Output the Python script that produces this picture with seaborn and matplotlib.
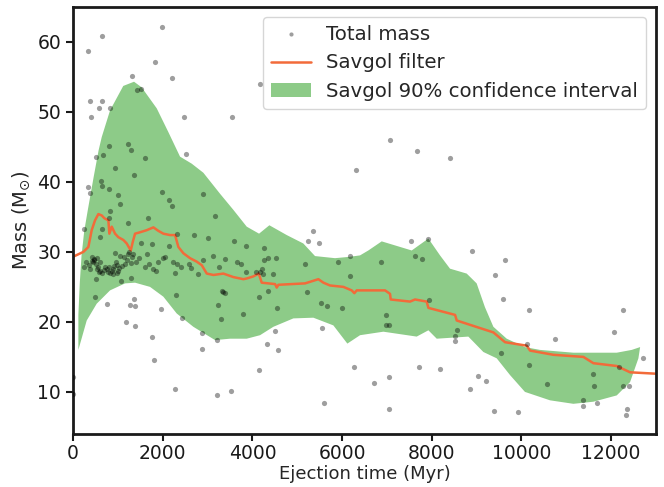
import numpy as np
import pandas as pd
import matplotlib
matplotlib.use("Agg")
import matplotlib.pyplot as plt
import seaborn as sns

# Ejection time (Myr) and total mass (Msun) of individual events
time_myr = [
    335, 655, 1990, 1835, 2208, 1310, 1420, 1520,
    372, 394, 580, 655, 825, 2475, 3553, 4177, 6305,
    810, 677, 505, 1220, 1287, 1598, 929, 1353, 2513,
    624, 640, 334, 386, 803, 1004, 1048, 1978, 2141, 2208, 2906, 3174,
    825, 796, 1680, 245, 647, 1220, 595, 2705, 3010, 3590, 3851, 4259,
    5233, 5478, 5359, 1509, 1768, 2147,
    7077, 7671, 8414, 7545, 7910,
    6184, 6876, 7634, 7783, 8891, 9641, 6170, 9404, 9589, 5991, 10176,
    7932, 6973, 6973, 7040, 12065, 12267, 10756, 8563, 8519, 8519, 10124,
    9551, 12719, 10169, 12183, 11589, 6266, 7723, 8191, 7054, 6705, 9039,
    9203, 8860, 10563, 11612, 12265, 12399, 11380, 11380, 11678, 12361,
    12325, 7046, 9388, 9930,
    7, 7, 2275, 3205, 3517, 4148, 5604, 1800, 1762, 1182, 1383, 1271, 1383,
    1360, 751, 1955, 490, 2437, 2883, 2883, 3211, 3300, 3233, 3784, 4326,
    4497, 4572, 4556, 4348, 4155, 5211, 5530, 5664, 5553, 5909, 5174, 2297,
    3323, 3352, 4163, 4244, 4467, 4355, 4259, 4527, 3753, 3664, 3382, 3115,
    3263, 2781, 2892, 2594, 2624, 2415, 2267, 2223, 2312, 2312, 1857, 1777,
    1695, 1657, 2000, 2045, 1472, 1309, 1338, 1234, 1287, 1160, 1033, 975,
    914, 863, 774, 810, 937, 1048, 1137, 714, 580, 602, 528, 475, 430, 357,
    513, 1063, 1301, 3851, 4081, 4207, 3390,
    450, 470, 520, 540, 560, 600, 650, 700, 760, 820, 880, 950, 1000, 1100,
    1200, 420, 380, 300, 250, 900, 980, 1250, 1400, 1600, 1900,
]
total_mass = [
    58.7, 60.8, 62.1, 57.1, 54.9, 55.1, 53.1, 53.3,
    51.6, 49.2, 50.6, 51.5, 50.5, 49.3, 49.2, 54.0, 41.7,
    45.1, 43.9, 43.5, 45.4, 44.6, 43.4, 42.0, 41.0, 44.0,
    40.1, 39.4, 39.2, 38.4, 39.0, 38.1, 36.8, 38.6, 37.4, 36.6, 38.2, 35.1,
    35.8, 34.8, 34.9, 33.2, 33.2, 34.1, 32.1, 32.4, 32.0, 31.6, 30.8, 30.5,
    31.5, 31.3, 33.0, 31.3, 31.1, 30.9,
    46.0, 44.4, 43.4, 31.6, 31.8,
    29.4, 28.5, 29.4, 29.0, 30.1, 28.8, 26.6, 26.7, 23.2, 22.0, 21.7,
    23.1, 21.0, 19.6, 19.6, 18.5, 21.7, 17.6, 18.8, 18.0, 17.2, 16.9,
    15.6, 14.9, 13.9, 13.5, 12.6, 13.5, 13.5, 13.3, 12.1, 11.3, 12.3,
    11.5, 10.4, 11.2, 10.9, 10.8, 10.9, 8.9, 8.0, 8.4, 7.5,
    6.7, 7.5, 7.3, 7.2,
    12.2, 9.7, 10.4, 9.6, 10.2, 13.1, 8.4, 14.5, 17.8, 20.0, 19.4, 22.4, 22.3,
    23.3, 22.5, 21.9, 23.6, 20.5, 18.4, 16.1, 17.4, 20.4, 22.4, 21.1, 16.9,
    18.7, 16.0, 22.0, 24.4, 23.6, 24.2, 22.7, 22.3, 19.1, 28.5, 28.2, 23.8,
    24.4, 24.2, 27.1, 26.9, 26.9, 29.1, 28.9, 29.1, 28.3, 28.5, 29.0, 29.4,
    27.8, 26.8, 28.8, 28.2, 27.7, 27.8, 27.0, 28.6, 28.3, 32.5, 27.3, 27.6,
    28.3, 29.7, 29.1, 29.3, 29.1, 29.3, 29.7, 29.7, 28.4, 28.3, 27.7, 28.1,
    28.0, 27.2, 27.1, 27.9, 29.8, 29.4, 29.3, 27.9, 27.1, 27.3, 29.1, 28.9, 28.7, 28.1,
    26.1, 25.9, 26.3, 27.1, 27.1, 27.6, 24.1,
    28.5, 29.0, 28.3, 27.5, 27.8, 28.6, 27.0, 27.4, 27.6, 27.0, 27.6, 28.6, 27.3, 28.0,
    28.9, 29.2, 27.5, 28.5, 27.9, 26.8, 27.0, 30.0, 28.6, 27.8, 28.5,
]

# Savitzky-Golay smoothed mass
savgol_time = [
    0, 231, 342, 416, 490, 565, 640, 699, 788, 810, 863, 937, 1010, 1122,
    1197, 1287, 1331, 1383, 1494, 1643, 1792, 1903, 2014, 2163, 2275, 2349,
    2461, 2609, 2759, 2870, 2982, 3130, 3242, 3352, 3575, 3798, 3873, 4021,
    4141, 4208, 4505, 4542, 4579, 5174, 5471, 5583, 5731, 6028, 6214, 6273,
    6326, 6958, 7069, 7084, 7515, 7626, 7886, 7924, 8519, 8556, 8891, 9373,
    9633, 10117, 10191, 10711, 11380, 11603, 12124, 12421, 13000,
]
savgol_mass = [
    29.3, 30.0, 30.7, 33.1, 34.5, 35.4, 35.2, 34.8, 34.5, 32.6, 33.6, 32.6,
    32.1, 31.7, 31.2, 30.2, 31.4, 32.6, 32.8, 33.1, 33.5, 33.0, 32.6, 32.4,
    32.4, 30.7, 29.8, 29.1, 28.6, 28.1, 26.9, 26.7, 26.8, 26.9, 26.4, 26.1,
    26.2, 26.5, 26.9, 25.6, 25.4, 24.9, 25.3, 25.5, 26.1, 25.6, 25.2, 25.0,
    24.5, 24.1, 24.5, 24.5, 24.0, 23.2, 22.9, 23.2, 22.9, 22.0, 21.0, 20.2,
    19.5, 18.5, 17.1, 16.6, 15.9, 15.3, 15.0, 14.1, 13.7, 12.8, 12.6,
]

# 90% confidence band of the smoothed mass
ci_upper_time = [
    119, 150, 190, 250, 330, 460, 570, 640, 825, 1120, 1360, 1530, 1866,
    2126, 2386, 2646, 2906, 3278, 3575, 3873, 4148, 4378, 4765, 5135, 5396,
    5842, 6177, 6400, 6585, 6883, 7552, 7924, 8183, 8406, 8778, 9000, 9185,
    9373, 9670, 10077, 10412, 11157, 12124, 12459, 12645,
]
ci_upper_mass = [
    21.0, 25.5, 29.5, 33.0, 36.0, 40.7, 44.5, 46.4, 50.2, 53.7, 54.3, 53.5,
    50.5, 47.1, 43.6, 42.6, 41.3, 38.3, 36.0, 33.6, 32.6, 33.8, 32.4, 31.2,
    29.4, 29.1, 29.3, 29.5, 30.2, 31.5, 30.2, 31.9, 29.5, 27.6, 26.9, 25.5,
    22.1, 19.3, 17.6, 16.4, 16.0, 15.6, 15.6, 16.0, 16.4,
]
ci_lower_time = [
    119, 305, 528, 825, 1160, 1383, 1717, 2014, 2312, 2683, 3167, 3500, 3873,
    4170, 4467, 4913, 5359, 5805, 6117, 6400, 6920, 7663, 7924, 8110, 8815,
    9150, 9447, 9745, 10077, 10635, 11157, 11603, 12124, 12421, 12607, 12645,
]
ci_lower_mass = [
    16.0, 20.2, 22.6, 24.5, 25.5, 25.6, 25.0, 23.6, 21.2, 19.3, 17.4, 17.6,
    17.6, 18.1, 19.3, 20.5, 20.6, 19.5, 16.9, 18.1, 18.6, 17.9, 18.8, 17.6,
    17.9, 15.7, 14.8, 12.4, 10.0, 8.8, 8.3, 8.6, 9.5, 11.4, 14.8, 16.4,
]

events = pd.DataFrame({"time": time_myr, "mass": total_mass})
smooth = pd.DataFrame({"time": savgol_time, "mass": savgol_mass})

sns.set_theme(style="ticks")
plt.rcParams["font.family"] = ["DejaVu Sans"]

fig, ax = plt.subplots(figsize=(6.64, 4.87), dpi=100)
fig.subplots_adjust(left=0.110, right=0.988, top=0.986, bottom=0.109)

band_x = np.concatenate([ci_upper_time, ci_lower_time[::-1]])
band_y = np.concatenate([ci_upper_mass, ci_lower_mass[::-1]])
ax.fill(band_x, band_y, color="#8dcb88", lw=0, zorder=1,
        label="Savgol 90% confidence interval")

sns.lineplot(data=smooth, x="time", y="mass", ax=ax, color="#f26b3a",
             lw=1.8, zorder=2, label="Savgol filter", estimator=None)

sns.scatterplot(data=events, x="time", y="mass", ax=ax, color="black",
                alpha=0.38, s=14, linewidth=0, zorder=3, label="Total mass")

ax.set_xlim(0, 13000)
ax.set_ylim(4, 65)
ax.set_xticks(range(0, 12001, 2000))
ax.set_yticks(range(10, 61, 10))
ax.set_xlabel("Ejection time (Myr)", fontsize=13, labelpad=1)
ax.set_ylabel(r"Mass (M$_{\odot}$)", fontsize=14)
ax.tick_params(labelsize=13.5, length=5, width=1.5, color="#1a1a1a",
               labelcolor="#1a1a1a")
ax.tick_params(axis="x", pad=2.5)
for sp in ax.spines.values():
    sp.set_linewidth(2)
    sp.set_color("#1a1a1a")

handles, labels = ax.get_legend_handles_labels()
order = [labels.index(l) for l in
         ["Total mass", "Savgol filter", "Savgol 90% confidence interval"]]
ax.legend([handles[i] for i in order], [labels[i] for i in order],
          loc="upper right", fontsize=14.2, frameon=True, borderaxespad=0.5,
          handlelength=2.0, markerscale=0.8)

fig.savefig("out.png", dpi=100)
